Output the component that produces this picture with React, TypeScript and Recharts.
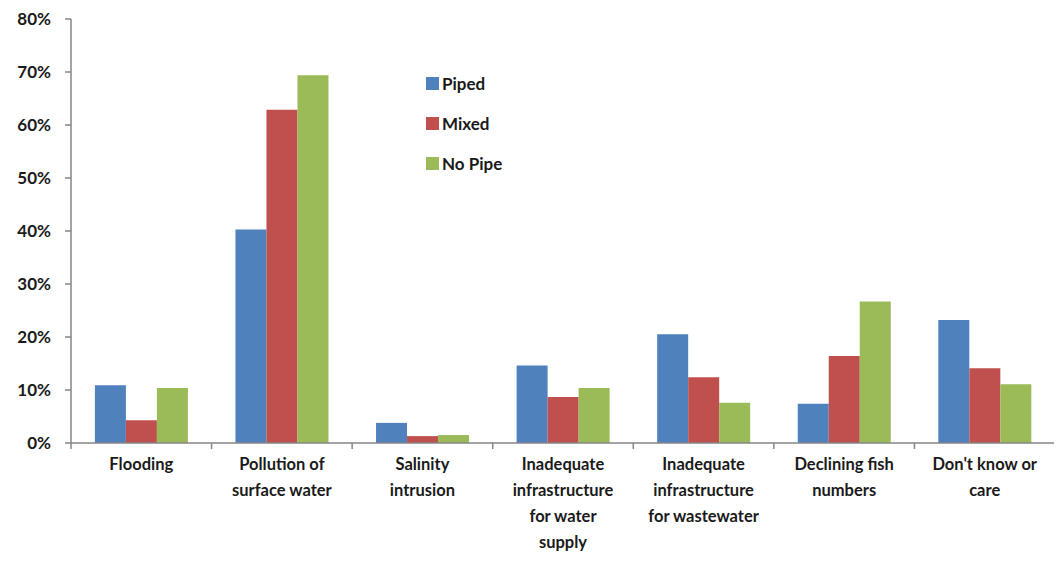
import React from "react";
import { BarChart, Bar, XAxis, YAxis } from "recharts";

const categories = [
  "Flooding",
  "Pollution of\nsurface water",
  "Salinity\nintrusion",
  "Inadequate\ninfrastructure\nfor water\nsupply",
  "Inadequate\ninfrastructure\nfor wastewater",
  "Declining fish\nnumbers",
  "Don't know or\ncare",
];

const piped = [10.9, 40.3, 3.8, 14.6, 20.5, 7.4, 23.2];
const mixed = [4.3, 62.9, 1.3, 8.7, 12.4, 16.4, 14.1];
const noPipe = [10.4, 69.4, 1.5, 10.4, 7.6, 26.7, 11.1];

const yTicks = [0, 10, 20, 30, 40, 50, 60, 70, 80];

const SERIES = [
  { key: "piped", name: "Piped", color: "#4F81BD" },
  { key: "mixed", name: "Mixed", color: "#C0504D" },
  { key: "noPipe", name: "No Pipe", color: "#9BBB59" },
];

const data = categories.map((label, i) => ({
  label,
  piped: piped[i],
  mixed: mixed[i],
  noPipe: noPipe[i],
}));

const WIDTH = 1054;
const HEIGHT = 557;
const MARGIN = { top: 11, right: 7, bottom: 4, left: 0 };
const Y_AXIS_W = 63;
const BAND = (WIDTH - MARGIN.left - MARGIN.right - Y_AXIS_W) / categories.length;
const AXIS_COLOR = "#868686";
const FONT = "Lato, 'Open Sans', sans-serif";
const TEXT_COLOR = "#1a1a1a";

// category label plus the divider tick that sits between groups
const CategoryTick = (props: any) => {
  const { x, y, payload, index } = props;
  const lines = String(payload.value).split("\n");
  const left = x - BAND / 2;
  return (
    <g>
      <line x1={left} y1={y - 8} x2={left} y2={y - 2} stroke={AXIS_COLOR} strokeWidth={1.5} />
      {index === categories.length - 1 && (
        <line x1={x + BAND / 2} y1={y - 8} x2={x + BAND / 2} y2={y - 2} stroke={AXIS_COLOR} strokeWidth={1.5} />
      )}
      <text
        x={x}
        y={y + 19}
        textAnchor="middle"
        fontFamily={FONT}
        fontWeight={700}
        fontSize={16.5}
        fill={TEXT_COLOR}
      >
        {lines.map((ln, i) => (
          <tspan key={i} x={x} dy={i === 0 ? 0 : 26}>
            {ln}
          </tspan>
        ))}
      </text>
    </g>
  );
};

const LegendBox = () => (
  <div
    style={{
      position: "absolute",
      left: 418,
      top: 55,
      fontFamily: FONT,
      fontWeight: 700,
      fontSize: 17,
      color: TEXT_COLOR,
    }}
  >
    {SERIES.map((s) => (
      <div key={s.key} style={{ display: "flex", alignItems: "center", height: 40 }}>
        <span style={{ width: 13, height: 13, background: s.color, marginRight: 3 }} />
        <span>{s.name}</span>
      </div>
    ))}
  </div>
);

export default function App() {
  return (
    <div style={{ position: "relative", width: WIDTH, height: HEIGHT, background: "#fff" }}>
      <BarChart
        width={WIDTH}
        height={HEIGHT}
        data={data}
        margin={MARGIN}
        barCategoryGap="17%"
        barGap={0}
      >
        <XAxis
          dataKey="label"
          interval={0}
          height={118}
          tickLine={false}
          axisLine={{ stroke: AXIS_COLOR, strokeWidth: 1.5 }}
          tick={<CategoryTick />}
        />
        <YAxis
          width={Y_AXIS_W}
          domain={[0, 80]}
          ticks={yTicks}
          interval={0}
          tickSize={6}
          tickMargin={14}
          tickFormatter={(v: number) => `${v}%`}
          axisLine={{ stroke: AXIS_COLOR, strokeWidth: 1.5 }}
          tickLine={{ stroke: AXIS_COLOR, strokeWidth: 1.5 }}
          tick={{ fontFamily: FONT, fontWeight: 700, fontSize: 17, fill: TEXT_COLOR }}
        />
        {SERIES.map((s) => (
          <Bar key={s.key} dataKey={s.key} name={s.name} fill={s.color} isAnimationActive={false} />
        ))}
      </BarChart>
      <LegendBox />
    </div>
  );
}
